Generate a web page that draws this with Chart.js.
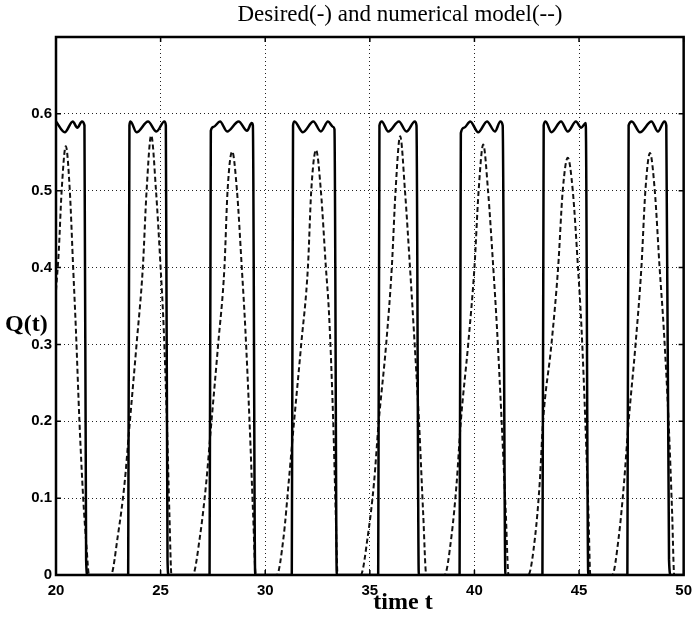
<!DOCTYPE html>
<html>
<head>
<meta charset="utf-8">
<title>Desired and numerical model</title>
<script src="https://cdn.jsdelivr.net/npm/chart.js@4.4.1/dist/chart.umd.min.js"></script>
<style>
  html, body { margin: 0; padding: 0; background: #fff; }
  #wrap { width: 699px; height: 620px; }
</style>
</head>
<body>
<div id="wrap"><canvas id="plot" width="699" height="620"></canvas></div>
<script>
// desired flow Q(t): square pulses with a rippled top (solid line)
const desiredT = [
  20, 20.42, 20.8, 21.02, 21.24, 21.36, 21.44, 21.5,
  23.45, 23.51, 23.56, 23.85, 24.4, 24.8, 25.18, 25.25, 25.33, 25.38,
  27.34, 27.4, 27.52, 27.84, 28.18, 28.73, 29.13, 29.35, 29.41, 29.52,
  31.27, 31.33, 31.4, 31.8, 32.3, 32.66, 33.0, 33.25, 33.31, 33.42,
  35.4, 35.46, 35.57, 35.88, 36.39, 36.75, 37.15, 37.23, 37.34,
  39.29, 39.35, 39.5, 39.8, 40.18, 40.6, 40.98, 41.24, 41.35, 41.48,
  43.25, 43.31, 43.4, 43.68, 44.14, 44.46, 44.85, 45.1, 45.32, 45.44,
  47.31, 47.37, 47.52, 47.91, 48.46, 48.77, 49.08, 49.17, 49.3, 49.38,
  50
];
const desiredQ = [
  0.59, 0.576, 0.59, 0.582, 0.59, 0.585, 0.02, 0,
  0, 0.585, 0.59, 0.576, 0.59, 0.577, 0.59, 0.585, 0.02, 0,
  0, 0.578, 0.583, 0.59, 0.577, 0.59, 0.578, 0.588, 0.585, 0,
  0, 0.585, 0.59, 0.576, 0.59, 0.577, 0.59, 0.583, 0.58, 0,
  0, 0.585, 0.59, 0.577, 0.59, 0.577, 0.59, 0.585, 0,
  0, 0.575, 0.582, 0.59, 0.576, 0.59, 0.577, 0.59, 0.585, 0,
  0, 0.585, 0.59, 0.576, 0.59, 0.577, 0.59, 0.582, 0.588, 0,
  0, 0.585, 0.59, 0.576, 0.59, 0.577, 0.59, 0.585, 0.02, 0,
  0
];

// numerical model output (dashed line)
const modelT = [
  20, 20.13, 20.27, 20.47, 20.66, 20.82, 20.95, 21.12, 21.3, 21.45, 21.58,
  22.62, 22.95, 23.28, 23.5, 23.85, 24.15, 24.33, 24.55, 24.78, 25.0, 25.15, 25.3, 25.42, 25.52,
  26.53, 26.88, 27.18, 27.4, 27.75, 28.05, 28.2, 28.42, 28.65, 28.88, 29.05, 29.25, 29.42, 29.55,
  30.55, 30.88, 31.12, 31.33, 31.72, 32.04, 32.2, 32.43, 32.66, 32.9, 33.05, 33.25, 33.37, 33.46,
  34.56, 34.9, 35.2, 35.42, 35.78, 36.05, 36.23, 36.45, 36.68, 36.92, 37.1, 37.35, 37.55, 37.7,
  38.57, 38.9, 39.15, 39.35, 39.7, 40.0, 40.2, 40.42, 40.65, 40.9, 41.08, 41.3, 41.5, 41.63,
  42.57, 42.9, 43.12, 43.28, 43.68, 44.0, 44.22, 44.46, 44.7, 44.95, 45.12, 45.3, 45.45, 45.54,
  46.58, 46.9, 47.15, 47.37, 47.7, 47.98, 48.17, 48.39, 48.62, 48.85, 49.05, 49.28, 49.45, 49.55,
  50
];
const modelQ = [
  0.37, 0.42, 0.5, 0.558, 0.5, 0.4, 0.32, 0.2, 0.1, 0.04, 0,
  0, 0.05, 0.12, 0.19, 0.3, 0.4, 0.5, 0.572, 0.5, 0.4, 0.32, 0.2, 0.08, 0,
  0, 0.05, 0.12, 0.19, 0.3, 0.4, 0.5, 0.551, 0.5, 0.4, 0.32, 0.2, 0.08, 0,
  0, 0.05, 0.12, 0.185, 0.3, 0.4, 0.5, 0.553, 0.5, 0.4, 0.34, 0.2, 0.08, 0,
  0, 0.05, 0.12, 0.198, 0.3, 0.4, 0.5, 0.571, 0.5, 0.4, 0.32, 0.2, 0.08, 0,
  0, 0.05, 0.12, 0.2, 0.3, 0.4, 0.5, 0.56, 0.5, 0.4, 0.32, 0.2, 0.08, 0,
  0, 0.05, 0.12, 0.2, 0.3, 0.4, 0.5, 0.543, 0.5, 0.4, 0.32, 0.2, 0.08, 0,
  0, 0.05, 0.12, 0.2, 0.3, 0.4, 0.5, 0.549, 0.5, 0.4, 0.32, 0.2, 0.08, 0,
  0
];

// axes
const xTickValues = [20, 25, 30, 35, 40, 45, 50];
const xTickLabels = ['20', '25', '30', '35', '40', '45', '50'];
const yTickValues = [0, 0.1, 0.2, 0.3, 0.4, 0.5, 0.6, 0.7];
const yTickLabels = ['0', '0.1', '0.2', '0.3', '0.4', '0.5', '0.6', ''];

const titleText = 'Desired(-) and numerical model(--)';
const xTitle = 'time t';
const yTitle = 'Q(t)';

const toPoints = (ts, qs) => ts.map((t, i) => ({ x: t, y: qs[i] }));

// box around the axes, inward tick marks and the text labels
const frameAndLabels = {
  id: 'frameAndLabels',
  afterDraw(chart) {
    const { ctx, chartArea: a, scales: { x, y } } = chart;
    ctx.save();
    ctx.strokeStyle = '#000';
    ctx.lineWidth = 1.5;
    ctx.beginPath();
    xTickValues.forEach(v => {
      const px = x.getPixelForValue(v);
      ctx.moveTo(px, a.bottom); ctx.lineTo(px, a.bottom - 5);
      ctx.moveTo(px, a.top); ctx.lineTo(px, a.top + 5);
    });
    yTickValues.forEach(v => {
      const py = y.getPixelForValue(v);
      ctx.moveTo(a.left, py); ctx.lineTo(a.left + 5, py);
      ctx.moveTo(a.right, py); ctx.lineTo(a.right - 5, py);
    });
    ctx.stroke();

    ctx.lineWidth = 2.5;
    ctx.strokeRect(a.left, a.top, a.right - a.left, a.bottom - a.top);

    ctx.fillStyle = '#000';
    ctx.textBaseline = 'middle';
    ctx.textAlign = 'center';
    ctx.font = '23px "Liberation Serif", "Times New Roman", serif';
    ctx.fillText(titleText, 400, 15);
    ctx.font = 'bold 24px "Liberation Serif", "Times New Roman", serif';
    ctx.fillText(xTitle, 403, 603);
    ctx.textAlign = 'left';
    ctx.fillText(yTitle, 5, 325);
    ctx.restore();
  }
};

new Chart(document.getElementById('plot'), {
  type: 'line',
  data: {
    datasets: [
      {
        label: 'Desired',
        data: toPoints(desiredT, desiredQ),
        borderColor: '#000',
        borderWidth: 2.5,
        pointRadius: 0,
        cubicInterpolationMode: 'monotone',
        fill: false
      },
      {
        label: 'Numerical model',
        data: toPoints(modelT, modelQ),
        borderColor: '#111',
        borderWidth: 2,
        borderDash: [5, 3],
        pointRadius: 0,
        cubicInterpolationMode: 'monotone',
        fill: false
      }
    ]
  },
  options: {
    responsive: false,
    animation: false,
    layout: { padding: { top: 37, right: 8, left: 0, bottom: 0 } },
    plugins: {
      legend: { display: false },
      title: { display: false },
      tooltip: { enabled: false }
    },
    scales: {
      x: {
        type: 'linear',
        min: 20,
        max: 50,
        afterBuildTicks: scale => { scale.ticks = xTickValues.map(v => ({ value: v })); },
        afterFit: scale => { scale.height = 45; },
        grid: { color: '#222', lineWidth: 1, drawTicks: false },
        border: { display: false, dash: [1, 3] },
        ticks: {
          padding: 7,
          color: '#000',
          maxRotation: 0,
          autoSkip: false,
          font: { family: '"Liberation Sans", Arial, sans-serif', size: 15, weight: 'bold' },
          callback: (v, i) => xTickLabels[i]
        }
      },
      y: {
        type: 'linear',
        min: 0,
        max: 0.7,
        afterBuildTicks: scale => { scale.ticks = yTickValues.map(v => ({ value: v })); },
        afterFit: scale => { scale.width = 56; },
        grid: { color: '#222', lineWidth: 1, drawTicks: false },
        border: { display: false, dash: [1, 3] },
        ticks: {
          padding: 4,
          color: '#000',
          autoSkip: false,
          font: { family: '"Liberation Sans", Arial, sans-serif', size: 15, weight: 'bold' },
          callback: (v, i) => yTickLabels[i]
        }
      }
    }
  },
  plugins: [frameAndLabels]
});
</script>
</body>
</html>
